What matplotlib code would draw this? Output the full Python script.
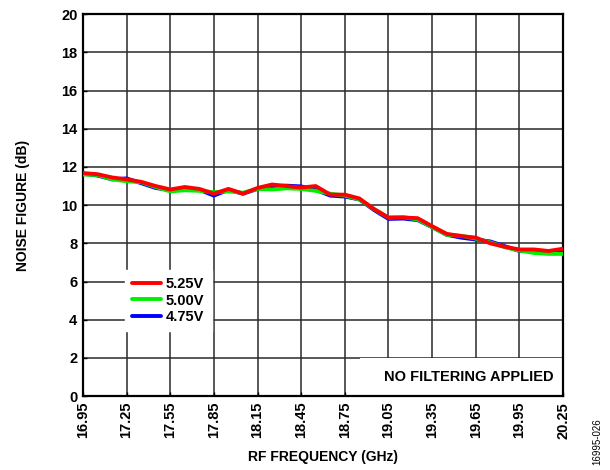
import matplotlib.pyplot as plt
from matplotlib.patches import Rectangle

plt.rcParams['font.family'] = ['Liberation Sans', 'DejaVu Sans']

# RF frequency (GHz)
freq = [16.95, 17.05, 17.15, 17.25, 17.35, 17.45, 17.55, 17.65, 17.75, 17.85,
        17.95, 18.05, 18.15, 18.25, 18.35, 18.45, 18.55, 18.65, 18.75, 18.85,
        18.95, 19.05, 19.15, 19.25, 19.35, 19.45, 19.55, 19.65, 19.75, 19.85,
        19.95, 20.05, 20.15, 20.25]

# noise figure (dB) per supply voltage
nf_525 = [11.68, 11.62, 11.45, 11.35, 11.22, 11.00, 10.82, 10.95, 10.85, 10.60,
          10.85, 10.60, 10.90, 11.08, 11.00, 10.92, 11.00, 10.55, 10.55, 10.35,
          9.80, 9.35, 9.35, 9.32, 8.90, 8.50, 8.38, 8.30, 8.00, 7.82,
          7.68, 7.68, 7.60, 7.72]
nf_500 = [11.60, 11.58, 11.35, 11.25, 11.20, 10.95, 10.72, 10.78, 10.75, 10.68,
          10.72, 10.65, 10.85, 10.82, 10.88, 10.85, 10.75, 10.60, 10.50, 10.30,
          9.80, 9.35, 9.38, 9.25, 8.85, 8.45, 8.40, 8.25, 8.05, 7.80,
          7.62, 7.50, 7.45, 7.45]
nf_475 = [11.65, 11.55, 11.35, 11.40, 11.15, 10.90, 10.78, 10.90, 10.80, 10.50,
          10.80, 10.60, 10.85, 11.00, 11.02, 10.98, 10.80, 10.50, 10.45, 10.30,
          9.75, 9.28, 9.30, 9.22, 8.85, 8.45, 8.30, 8.20, 8.10, 7.85,
          7.60, 7.60, 7.55, 7.62]

xticks = [16.95, 17.25, 17.55, 17.85, 18.15, 18.45, 18.75, 19.05, 19.35,
          19.65, 19.95, 20.25]
yticks = [0, 2, 4, 6, 8, 10, 12, 14, 16, 18, 20]

fig = plt.figure(figsize=(6.1, 4.7), dpi=100)
ax = fig.add_axes([0.136, 0.157, 0.787, 0.813])

ax.plot(freq, nf_475, color='#0000ff', lw=2.8, zorder=3, label='4.75V',
        solid_joinstyle='round', solid_capstyle='round')
ax.plot(freq, nf_500, color='#00ee00', lw=2.8, zorder=4, label='5.00V',
        solid_joinstyle='round', solid_capstyle='round')
ax.plot(freq, nf_525, color='#ff0000', lw=2.8, zorder=5, label='5.25V',
        solid_joinstyle='round', solid_capstyle='round')

ax.set_xlim(16.95, 20.25)
ax.set_ylim(0, 20)
ax.set_xticks(xticks)
ax.set_xticklabels([f'{x:.2f}' for x in xticks], rotation=90,
                   fontweight='bold', fontsize=10.5)
ax.set_yticks(yticks)
ax.set_yticklabels([str(y) for y in yticks], fontweight='bold', fontsize=10.5)
ax.tick_params(direction='in', length=3, width=1, pad=4)

ax.set_axisbelow(True)
ax.grid(True, color='#2a2a2a', lw=1.1)
for s in ax.spines.values():
    s.set_linewidth(1.6)

ax.set_xlabel('RF FREQUENCY (GHz)', fontweight='bold', fontsize=10, labelpad=8)
ax.set_ylabel('NOISE FIGURE (dB)', fontweight='bold', fontsize=10, labelpad=22)

# white patch behind the note
ax.add_patch(Rectangle((0.577, 0.004), 0.42, 0.097, transform=ax.transAxes,
                       facecolor='white', edgecolor='none', zorder=1.5))
ax.text(0.98, 0.05, 'NO FILTERING APPLIED', transform=ax.transAxes,
        ha='right', va='center', fontweight='bold', fontsize=10.5, zorder=6)

h, l = ax.get_legend_handles_labels()
leg = ax.legend(h[::-1], l[::-1], loc='upper left', bbox_to_anchor=(0.0875, 0.33),
                borderaxespad=0, frameon=True, fancybox=False, framealpha=1,
                edgecolor='white', facecolor='white', prop={'weight': 'bold', 'size': 10.5},
                handlelength=2.0, handletextpad=0.3, labelspacing=0.15,
                borderpad=0.5)
leg.set_zorder(7)

fig.text(0.98, 0.06, '16995-026', rotation=90, fontsize=7, ha='center', va='center')

fig.savefig('out.png', dpi=100)
